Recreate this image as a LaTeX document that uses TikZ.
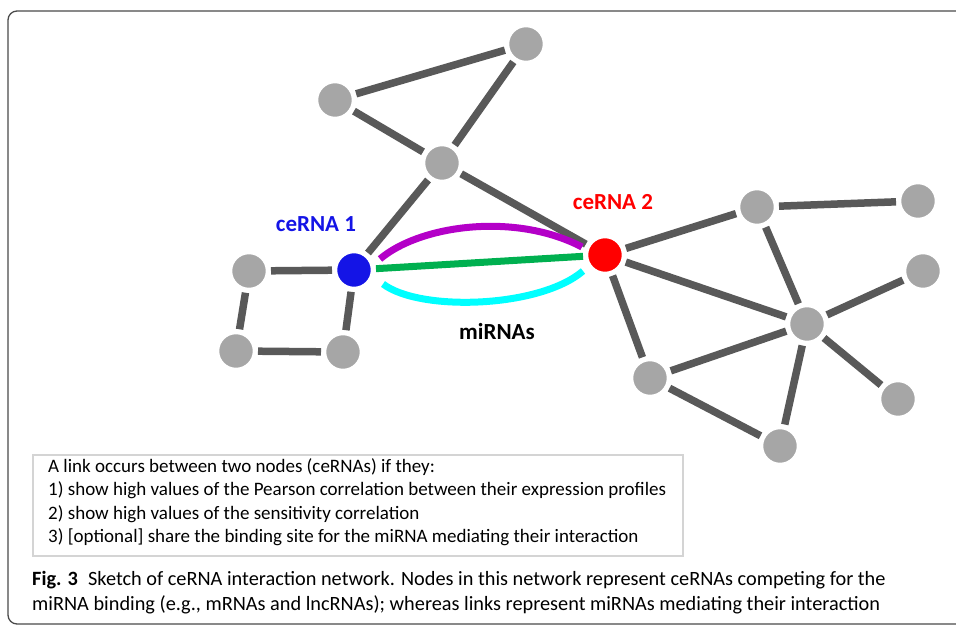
\documentclass[tikz,border=0pt]{standalone}
\usepackage{fontspec}
\setmainfont{Carlito}
\usetikzlibrary{calc}
\definecolor{nodegray}{HTML}{A6A6A6}
\definecolor{edgegray}{HTML}{595959}
\definecolor{cblue}{HTML}{1414E6}
\definecolor{cred}{HTML}{FF0000}
\definecolor{cmag}{HTML}{B400C8}
\definecolor{cgreen}{HTML}{00B050}
\definecolor{ccyan}{HTML}{00FFFF}
\definecolor{boxgray}{HTML}{D4D4D4}
\definecolor{framegray}{HTML}{4A4A4A}
\begin{document}
\begin{tikzpicture}[x=1pt,y=-1pt,
  gnode/.style={circle,minimum size=36pt,inner sep=0pt,outer sep=4pt},
  link/.style={line width=7.5pt,draw=edgegray},
  mirna/.style={line width=7pt},
  lbl/.style={font=\bfseries\fontsize{23}{26}\selectfont,inner sep=0pt},
  boxtext/.style={font=\fontsize{19}{23.6}\selectfont,align=left,anchor=north west,inner sep=0pt}
]
\useasboundingbox (0,0) rectangle (956,626);
\draw[framegray,line width=1.3pt,rounded corners=9pt] (8,11) rectangle (975,624);

% nodes (positions)
\node[gnode] (a) at (335,100) {};
\node[gnode] (b) at (526,44) {};
\node[gnode] (c) at (442,163) {};
\node[gnode] (d) at (249,271) {};
\node[gnode] (e) at (236,351) {};
\node[gnode] (f) at (343,352) {};
\node[gnode] (cb) at (354,270) {};
\node[gnode] (cr) at (605,255) {};
\node[gnode] (g) at (757,207) {};
\node[gnode] (h) at (918,201) {};
\node[gnode] (i) at (923,271) {};
\node[gnode] (j) at (807,324) {};
\node[gnode] (k) at (650,378) {};
\node[gnode] (l) at (898,399) {};
\node[gnode] (m) at (780,446) {};

% links
\foreach \u/\v in {a/b,a/c,b/c,c/cb,c/cr,d/cb,d/e,e/f,f/cb,cr/g,g/h,cr/j,cr/k,g/j,i/j,j/k,j/l,j/m,k/m}
  \draw[link] (\u) -- (\v);

% miRNA links
\draw[mirna,cgreen] (cb) -- (cr);
\draw[mirna,cmag] ($(cb)+(26,-11)$) .. controls (420,225) and (515,212) .. ($(cr)+(-23,-8)$);
\draw[mirna,ccyan] ($(cb)+(29,14)$) .. controls (420,312) and (540,308) .. ($(cr)+(-22,16)$);

% node discs
\foreach \n in {a,b,c,d,e,f,g,h,i,j,k,l,m}
  \fill[nodegray,draw=white,line width=2.5pt] (\n) circle (18pt);
\fill[cblue,draw=white,line width=2.5pt] (cb) circle (18pt);
\fill[cred,draw=white,line width=2.5pt] (cr) circle (18pt);

% labels
\node[lbl,text=cblue] (l1) at (316,224) {ceRNA 1};
\node[lbl,text=cred] (l2) at (613,202) {ceRNA 2};
\node[lbl,text=black] (l3) at (497,332) {miRNAs};

% text box
\draw[boxgray,line width=2pt] (33,455) rectangle (683,556);
\node[boxtext] (bt) at (48,458) {A link occurs between two nodes (ceRNAs) if they:\\
1)\ show high values of the Pearson correlation between their expression profiles\\
2)\ show high values of the sensitivity correlation\\
3)\ [optional] share the binding site for the miRNA mediating their interaction};

% caption
\node[anchor=north west,inner sep=0pt,align=left,font=\fontsize{20.3}{25}\selectfont] (cap) at (32,571)
 {\textbf{Fig. 3}\hspace{0.5em}Sketch of ceRNA interaction network. Nodes in this network represent ceRNAs competing for the\\
 miRNA binding (e.g., mRNAs and lncRNAs); whereas links represent miRNAs mediating their interaction};
\end{tikzpicture}
\end{document}
